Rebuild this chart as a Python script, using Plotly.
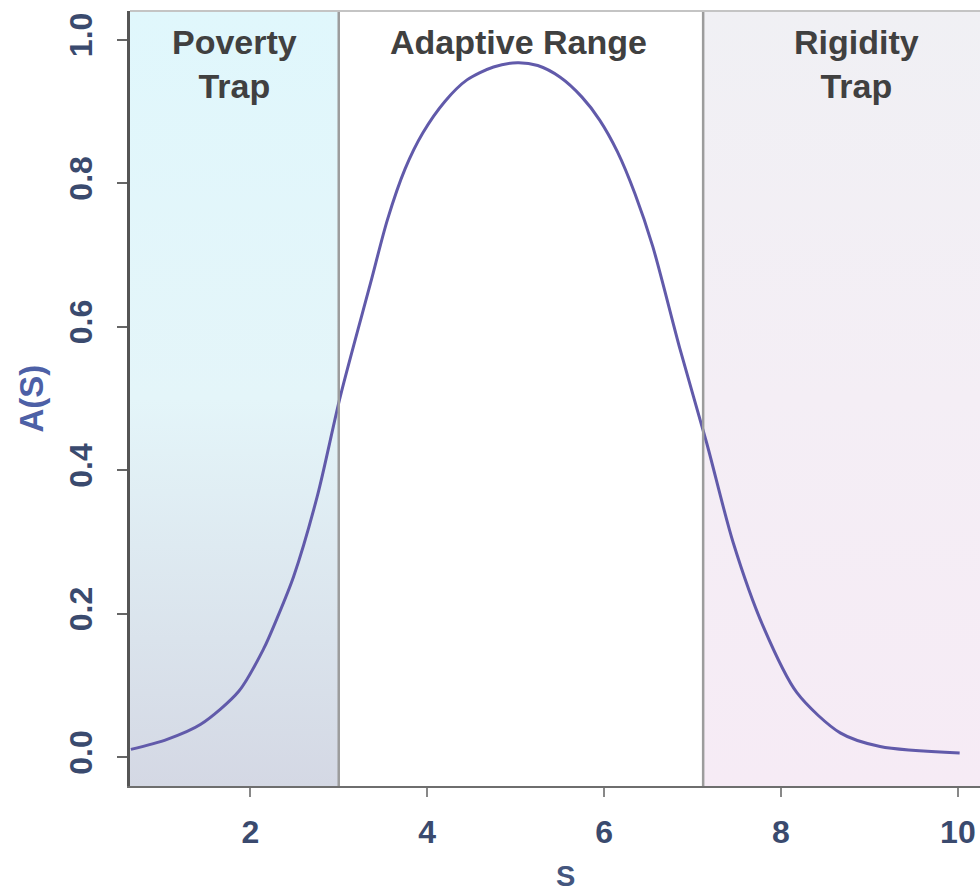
import plotly.graph_objects as go

# ---- data ----
S_values = [0.65, 1.06, 1.44, 1.87, 2.15, 2.30, 2.49, 2.76, 3.02, 3.36, 3.55, 3.75, 3.95,
            4.20, 4.45, 4.75, 5.02, 5.25, 5.50, 5.75, 5.95, 6.15, 6.35, 6.55, 6.86,
            7.16, 7.46, 7.80, 8.18, 8.67, 9.12, 10.02]
A_values = [0.011, 0.025, 0.046, 0.092, 0.151, 0.193, 0.252, 0.365, 0.504, 0.661, 0.749, 0.820, 0.870,
            0.914, 0.944, 0.962, 0.968, 0.964, 0.948, 0.920, 0.888, 0.844, 0.785, 0.712, 0.568,
            0.438, 0.299, 0.182, 0.090, 0.034, 0.015, 0.006]

poverty_bound = 3.0
rigidity_bound = 7.12
x_range = [0.64, 10.25]
y_range = [-0.04, 1.04]

x_ticks = [2, 4, 6, 8, 10]
x_tick_labels = ["2", "4", "6", "8", "10"]
y_ticks = [0.0, 0.2, 0.4, 0.6, 0.8, 1.0]
y_tick_labels = ["0.0", "0.2", "0.4", "0.6", "0.8", "1.0"]

region_labels = ["Poverty<br>Trap", "Adaptive Range", "Rigidity<br>Trap"]
region_label_x = [(x_range[0] + poverty_bound) / 2, 5.03, 8.85]

fig = go.Figure()

# shaded regions
fig.add_trace(go.Scatter(
    x=[x_range[0] - 1, poverty_bound, poverty_bound, x_range[0] - 1, x_range[0] - 1],
    y=[y_range[0], y_range[0], y_range[1], y_range[1], y_range[0]],
    fill="toself", mode="lines", line=dict(width=0),
    fillgradient=dict(type="vertical",
                      colorscale=[[0, "#d4d8e4"], [0.5, "#e4f5f9"], [1, "#e0f7fc"]]),
    hoverinfo="skip", showlegend=False))
fig.add_trace(go.Scatter(
    x=[rigidity_bound, x_range[1] + 1, x_range[1] + 1, rigidity_bound, rigidity_bound],
    y=[y_range[0], y_range[0], y_range[1], y_range[1], y_range[0]],
    fill="toself", mode="lines", line=dict(width=0),
    fillgradient=dict(type="vertical",
                      colorscale=[[0, "#f6ebf5"], [0.5, "#f4eef5"], [1, "#f0f0f4"]]),
    hoverinfo="skip", showlegend=False))

# curve
fig.add_trace(go.Scatter(
    x=S_values, y=A_values, mode="lines",
    line=dict(color="#615aaa", width=3, shape="spline", smoothing=0.8),
    showlegend=False, hoverinfo="skip"))

# boundary lines
for xb in [poverty_bound, rigidity_bound]:
    fig.add_shape(type="line", x0=xb, x1=xb, y0=0, y1=1, xref="x", yref="paper",
                  line=dict(color="#9c9c9c", width=2.5), layer="above")
# top border
fig.add_shape(type="line", x0=0, x1=1, y0=1, y1=1, xref="paper", yref="paper",
              line=dict(color="#c4c4c4", width=2), layer="above")

# region labels
for lab, lx in zip(region_labels, region_label_x):
    fig.add_annotation(x=lx, y=1.0, xref="x", yref="paper", yanchor="top",
                       yshift=-10, text=lab, showarrow=False,
                       font=dict(family="Liberation Sans, Arial", size=34,
                                 color="#404040", weight="bold"),
                       align="center")

# axis titles
fig.add_annotation(x=(31 - 130) / (980 - 130), y=0.5, xref="paper", yref="paper",
                   text="A(S)", textangle=-90, showarrow=False, xanchor="center",
                   yanchor="middle",
                   font=dict(family="Liberation Sans, Arial", size=33,
                             color="#4d60a6", weight="bold"))
fig.add_annotation(x=(565 - 130) / (980 - 130), y=-(876 - 786) / 775, xref="paper",
                   yref="paper", text="S", showarrow=False, xanchor="center",
                   yanchor="middle",
                   font=dict(family="Liberation Sans, Arial", size=29,
                             color="#44567e", weight="bold"))

tick_font = dict(family="Liberation Sans, Arial", size=32, color="#3a4a6e", weight="bold")

fig.update_layout(
    width=980, height=895,
    margin=dict(l=130, r=0, t=11, b=109),
    paper_bgcolor="white", plot_bgcolor="white",
    xaxis=dict(range=x_range, tickvals=x_ticks, ticktext=x_tick_labels,
               showgrid=False, zeroline=False, showline=True, linecolor="#6e6e6e",
               linewidth=2, ticks="outside", ticklen=9, tickwidth=2, tickcolor="#888",
               tickfont=tick_font, ticklabelstandoff=8),
    yaxis=dict(range=y_range, tickvals=y_ticks, ticktext=y_tick_labels,
               showgrid=False, zeroline=False, showline=True, linecolor="#555",
               linewidth=2.5, ticks="outside", ticklen=10, tickwidth=2, tickcolor="#666",
               tickfont=tick_font, tickangle=-90, ticklabelstandoff=12),
)

fig.write_html("out.html", config={"displayModeBar": False},
               post_script="document.body.style.margin='0';document.body.style.overflow='hidden';")
